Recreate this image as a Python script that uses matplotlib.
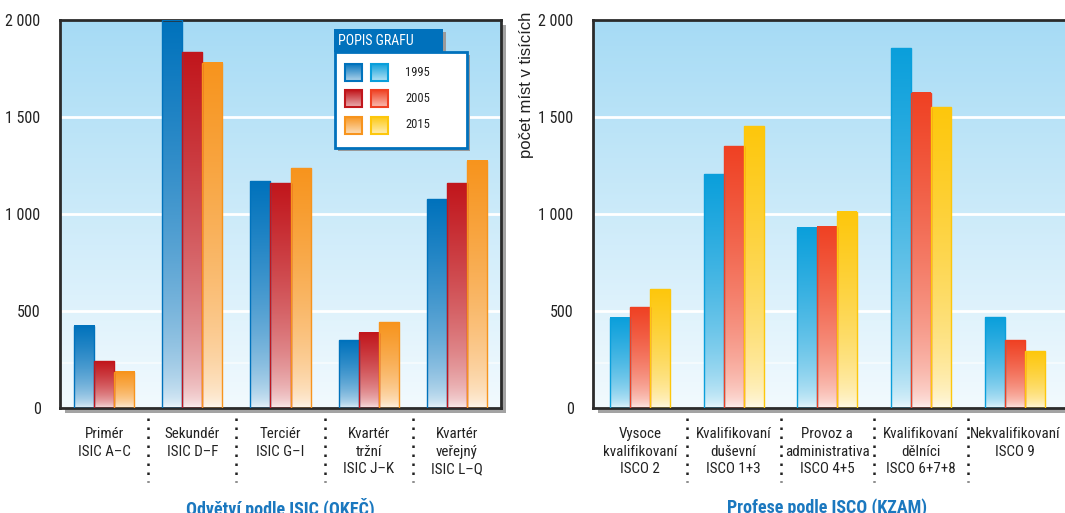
import matplotlib
matplotlib.use("Agg")
import matplotlib.pyplot as plt
import numpy as np
from matplotlib.patches import Rectangle
from matplotlib.colors import to_rgb
import matplotlib.transforms as mtrans
import logging

logging.getLogger('matplotlib.font_manager').setLevel(logging.ERROR)
narrow = ['Roboto Condensed', 'IBM Plex Sans Condensed', 'DejaVu Sans']
plt.rcParams['font.family'] = narrow

# data (thousands of jobs)
years = ['1995', '2005', '2015']

isic_labels = ['Primér\nISIC A–C', 'Sekundér\nISIC D–F', 'Terciér\nISIC G–I',
               'Kvartér\ntržní\nISIC J–K', 'Kvartér\nveřejný\nISIC L–Q']
isic_1995 = [425, 2000, 1170, 348, 1076]
isic_2005 = [241, 1833, 1158, 388, 1158]
isic_2015 = [188, 1779, 1235, 441, 1275]

isco_labels = ['Vysoce\nkvalifikovaní\nISCO 2', 'Kvalifikovaní\nduševní\nISCO 1+3',
               'Provoz a\nadministrativa\nISCO 4+5', 'Kvalifikovaní\ndělníci\nISCO 6+7+8',
               'Nekvalifikovaní\nISCO 9']
isco_1995 = [465, 1204, 930, 1855, 469]
isco_2005 = [520, 1349, 934, 1626, 350]
isco_2015 = [613, 1452, 1011, 1549, 293]

yticks = [0, 500, 1000, 1500, 2000]
ytick_labels = ['0', '500', '1 000', '1 500', '2 000']

isic_colors = ['#0072bc', '#c1161c', '#f7941d']
isco_colors = ['#0a9fdb', '#ef4123', '#fdc70c']

W, H = 1065, 513
fig = plt.figure(figsize=(W / 100, H / 100), dpi=100)


def fade(color, n=256):
    # full colour at the top, almost white at the bottom
    c = np.array(to_rgb(color))
    t = np.linspace(0, 1, n)
    f = 0.04 + 0.96 * t ** 0.5
    return (1 - f[:, None]) * 1.0 + f[:, None] * c


def gradient_bars(ax, x, vals, width, color):
    bars = ax.bar(x, vals, width, facecolor='none', edgecolor=color, lw=1, zorder=3)
    img = fade(color)[:, None, :]
    for b in bars:
        x0, y0 = b.get_x(), b.get_y()
        ax.imshow(img, extent=[x0, x0 + b.get_width(), y0, y0 + b.get_height()],
                  origin='lower', aspect='auto', interpolation='bilinear', zorder=2)
    return bars


def panel(rect, labels, series, colors, width, xmax, title):
    l, b, w, h = [v / s for v, s in zip(rect, (W, H, W, H))]
    # drop shadow of the frame
    fig.patches.append(Rectangle((l + 5 / W, b - 5 / H), w, h, transform=fig.transFigure,
                                 facecolor='#a3a3a3', edgecolor='none', zorder=-1))
    ax = fig.add_axes([l, b, w, h])
    bg = np.linspace(to_rgb('#f2fafe'), to_rgb('#a6dbf5'), 256)[:, None, :]
    ax.imshow(bg, extent=[0, 1, 0, 1], transform=ax.transAxes, origin='lower',
              aspect='auto', interpolation='bilinear', zorder=0)
    for v in yticks[1:-1]:
        ax.axhline(v, color='white', lw=2, zorder=1)
    ax.axhline(230, color='white', lw=1.2, alpha=0.6, zorder=1)

    x = np.arange(len(labels))
    for k, (vals, c) in enumerate(zip(series, colors)):
        gradient_bars(ax, x + (k - 1) * width, vals, width, c)

    ax.set_xlim(-0.5, xmax)
    ax.set_ylim(0, 2000)
    ax.set_yticks(yticks)
    ax.set_yticklabels(ytick_labels, fontsize=11.5, color='#222222')
    ax.tick_params(axis='y', length=0, pad=14)
    ax.set_xticks([])
    for s in ax.spines.values():
        s.set_color('#2b2b2b')
        s.set_linewidth(2)

    tr = mtrans.blended_transform_factory(ax.transData, ax.transAxes)
    for i, lab in enumerate(labels):
        ax.text(i, -0.05, lab, transform=tr, ha='center', va='top', fontsize=10.8,
                color='#222222', linespacing=1.3)
    for i in range(len(labels) - 1):
        ax.plot([i + 0.5, i + 0.5], [-0.025, -0.19], transform=tr, clip_on=False,
                color='#222222', lw=1.8, linestyle=(0, (1, 2.6)))
    ax.text(2, -0.232, title, transform=tr, ha='center', va='top', fontsize=13,
            fontweight='bold', color='#1b78bf')
    return ax


# panel frames in pixels: left, bottom, width, height
ax1 = panel((60, 105, 441, 388), isic_labels, [isic_1995, isic_2005, isic_2015],
            isic_colors, 0.227, 4.5, 'Odvětví podle ISIC (OKEČ)')
ax2 = panel((593, 105, 480, 388), isco_labels, [isco_1995, isco_2005, isco_2015],
            isco_colors, 0.213, -0.5 + 480 / 93.75, 'Profese podle ISCO (KZAM)')

fig.text(526 / W, 1 - 12 / H, 'počet míst v tisících', rotation=90, ha='center', va='top',
         fontsize=12, family=['Liberation Sans', 'DejaVu Sans'], color='#222222')


# legend box, placed in pixel units of the left panel
def axf(px, py):
    return (px - 60) / 441, (408 - py) / 388


def box(x0, y0, x1, y1, **kw):
    ax0, ay1 = axf(x0, y0)
    ax1_, ay0 = axf(x1, y1)
    r = Rectangle((ax0, ay0), ax1_ - ax0, ay1 - ay0, transform=ax1.transAxes,
                  clip_on=False, **kw)
    ax1.add_patch(r)
    return r


box(337, 32, 446, 55, facecolor='#9a9a9a', edgecolor='none', zorder=5)
box(338, 55, 470, 151, facecolor='#9a9a9a', edgecolor='none', zorder=5)
box(334, 29, 443, 52, facecolor='#0071bc', edgecolor='none', zorder=6)
box(335, 52, 467, 148, facecolor='white', edgecolor='#0071bc', lw=2, zorder=6)
hx, hy = axf(338, 41)
ax1.text(hx, hy, 'POPIS GRAFU', transform=ax1.transAxes, color='white', fontsize=10,
         va='center', ha='left', zorder=7)

for row, (yr, c1, c2) in enumerate(zip(years, isic_colors, isco_colors)):
    cy = 72 + row * 26.5
    for sx, c in ((345, c1), (371, c2)):
        box(sx, cy - 8.5, sx + 17, cy + 8.5, facecolor='none', edgecolor=c, lw=1.5, zorder=8)
        ax0, ay1 = axf(sx, cy - 8.5)
        ax1_, ay0 = axf(sx + 17, cy + 8.5)
        g = np.linspace(0.35, 1, 64)
        img = (1 - g[:, None]) + g[:, None] * np.array(to_rgb(c))
        ax1.imshow(img[:, None, :], extent=[ax0, ax1_, ay0, ay1], transform=ax1.transAxes,
                   origin='lower', aspect='auto', interpolation='bilinear', zorder=7,
                   clip_on=False)
    lx, ly = axf(405, cy)
    ax1.text(lx, ly, yr, transform=ax1.transAxes, fontsize=9, va='center', ha='left',
             color='#222222', zorder=8)

ax1.set_xlim(-0.5, 4.5)
ax1.set_ylim(0, 2000)
ax2.set_xlim(-0.5, -0.5 + 480 / 93.75)
ax2.set_ylim(0, 2000)

fig.savefig('out.png', dpi=100)
